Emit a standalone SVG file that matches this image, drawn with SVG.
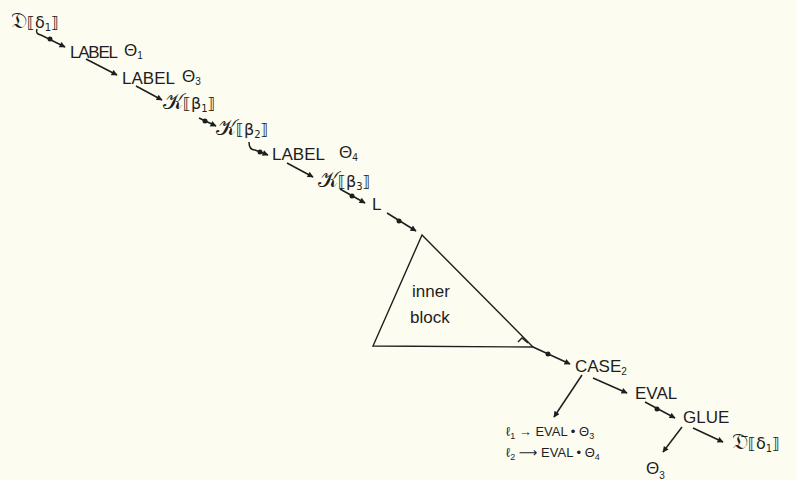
<svg xmlns="http://www.w3.org/2000/svg" width="797" height="480" viewBox="0 0 797 480">
<defs>
<marker id="ah" viewBox="0 0 10 10" refX="9" refY="5" markerWidth="8" markerHeight="6" markerUnits="userSpaceOnUse" orient="auto">
<path d="M0,0 L10,5 L0,10 Z" fill="#1e1e1e"/>
</marker>
<style>
.t{font-family:"Liberation Sans","DejaVu Sans",sans-serif;fill:#1e1e1e;font-size:17px}
.m{font-family:"DejaVu Sans","DejaVu Serif",sans-serif;fill:#1e1e1e;font-size:16px}
.big{font-size:22px}
.s{font-size:10px}
.sm{font-family:"Liberation Sans","DejaVu Sans",sans-serif;fill:#1e1e1e;font-size:13px}
.c{fill:none;stroke:#1e1e1e;stroke-width:1.5;marker-end:url(#ah)}
.d{fill:#1e1e1e}
.tri{fill:none;stroke:#1e1e1e;stroke-width:1.4}
</style>
</defs>
<rect width="797" height="480" fill="#fdfcf0"/>

<g id="connectors">
<path class="c" d="M37,29 Q35,34 41,35 L65,47"/>
<circle class="d" cx="50" cy="39" r="2.5"/>
<path class="c" d="M86,59 L117,75"/>
<path class="c" d="M136,86 L162,100"/>
<path class="c" d="M199,118 L216,126"/>
<circle class="d" cx="205" cy="121" r="2.5"/>
<path class="c" d="M249,142 Q249,150 255,150 L268,155"/>
<circle class="d" cx="260" cy="152" r="2.5"/>
<path class="c" d="M340,189 L365,203"/>
<path class="c" d="M287,163 L313,177"/>
<circle class="d" cx="352" cy="196" r="2.5"/>
<path class="c" d="M387,213 L416,231"/>
<circle class="d" cx="399" cy="221" r="2.5"/>
<path class="c" d="M533,347 L570,364"/>
<circle class="d" cx="548" cy="354" r="2.5"/>
<path class="c" d="M582,375 L554,417"/>
<path class="c" d="M593,378 L627,393"/>
<path class="c" d="M645,402 L675,418"/>
<circle class="d" cx="657" cy="409" r="2.5"/>
<path class="c" d="M682,427 L663,452"/>
<path class="c" d="M693,428 L723,442"/>
</g>

<g id="n-d">
<text class="m" x="11" y="28"><tspan class="big">𝔇</tspan>⟦δ<tspan class="s" dy="3">1</tspan><tspan dy="-3">⟧</tspan></text>
</g>
<g id="n-label1">
<text class="t" x="70" y="58" textLength="48">LABEL</text>
<text class="t" x="124" y="56" font-size="15">Θ<tspan class="s" dy="3">1</tspan></text>
</g>
<g id="n-label3">
<text class="t" x="122" y="84" textLength="53">LABEL</text>
<text class="t" x="182" y="82" font-size="15">Θ<tspan class="s" dy="3">3</tspan></text>
</g>
<g id="n-k1">
<text class="m" x="163" y="109"><tspan class="big">𝒦</tspan>⟦β<tspan class="s" dy="3">1</tspan><tspan dy="-3">⟧</tspan></text>
</g>
<g id="n-k2">
<text class="m" x="216" y="135"><tspan class="big">𝒦</tspan>⟦β<tspan class="s" dy="3">2</tspan><tspan dy="-3">⟧</tspan></text>
</g>
<g id="n-label4">
<text class="t" x="272" y="160" textLength="53">LABEL</text>
<text class="t" x="339" y="158" font-size="15">Θ<tspan class="s" dy="3">4</tspan></text>
</g>
<g id="n-k3">
<text class="m" x="318" y="187"><tspan class="big">𝒦</tspan>⟦β<tspan class="s" dy="3">3</tspan><tspan dy="-3">⟧</tspan></text>
</g>
<g id="n-l">
<text class="t" x="372" y="210">L</text>
</g>
<g id="n-block">
<path class="tri" d="M422,235 L373,346 L533,347 Z"/>
<path class="tri" d="M518,342 L522,338 L528,343"/>
<text class="t" x="412" y="297" font-size="14">inner</text>
<text class="t" x="410" y="323" font-size="14">block</text>
</g>
<g id="n-case2">
<text class="t" x="575" y="372" font-size="18">CASE<tspan class="s" dy="3">2</tspan></text>
</g>
<g id="n-cases">
<text class="sm" x="506" y="436">ℓ<tspan font-size="9" dy="3">1</tspan><tspan dy="-3"> → EVAL • Θ</tspan><tspan font-size="9" dy="3">3</tspan></text>
<text class="sm" x="506" y="457">ℓ<tspan font-size="9" dy="3">2</tspan><tspan dy="-3"> ⟶ EVAL • Θ</tspan><tspan font-size="9" dy="3">4</tspan></text>
</g>
<g id="n-eval">
<text class="t" x="635" y="399" font-size="15">EVAL</text>
</g>
<g id="n-glue">
<text class="t" x="683" y="423" font-size="15">GLUE</text>
</g>
<g id="n-theta3">
<text class="t" x="646" y="474" font-size="19">Θ<tspan class="s" dy="5">3</tspan></text>
</g>
<g id="n-dbar">
<text class="m" x="732" y="449"><tspan class="big">𝔇̄</tspan>⟦δ<tspan class="s" dy="3">1</tspan><tspan dy="-3">⟧</tspan></text>
</g>
</svg>
